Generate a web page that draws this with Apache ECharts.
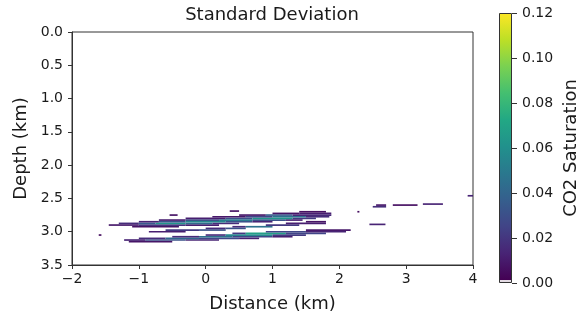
<!DOCTYPE html>
<html>
<head>
<meta charset="utf-8">
<script src="https://cdn.jsdelivr.net/npm/echarts@6/dist/echarts.min.js"></script>
<style>html,body{margin:0;padding:0;background:#fff;}#chart{width:586px;height:321px;}</style>
</head>
<body>
<div id="chart"></div>
<script>
// ---- data: each patch = [xStart (km), xEnd (km), depth (km), std of CO2 saturation]
const ROW_H = 0.025; // depth thickness of one model row (km)

const upperBand = [
  [-1.10, -0.40, 2.925, 0.006],
  [-1.45, -1.00, 2.900, 0.008],
  [-1.00, -0.30, 2.900, 0.018],
  [-0.30, 0.20, 2.900, 0.010],
  [-1.30, -1.00, 2.875, 0.015],
  [-1.00, -0.75, 2.875, 0.035],
  [-0.75, -0.30, 2.875, 0.062],
  [-0.30, 0.10, 2.875, 0.040],
  [0.10, 0.50, 2.875, 0.015],
  [-1.00, -0.70, 2.850, 0.012],
  [-0.70, -0.30, 2.850, 0.030],
  [-0.30, 0.30, 2.850, 0.055],
  [0.30, 0.70, 2.850, 0.030],
  [0.70, 1.00, 2.850, 0.012],
  [-0.70, -0.30, 2.825, 0.010],
  [-0.30, 0.20, 2.825, 0.030],
  [0.20, 0.70, 2.825, 0.050],
  [0.70, 1.20, 2.825, 0.030],
  [1.20, 1.45, 2.825, 0.010],
  [-0.30, 0.30, 2.800, 0.010],
  [0.30, 0.70, 2.800, 0.030],
  [0.70, 1.30, 2.800, 0.062],
  [1.30, 1.65, 2.800, 0.020],
  [0.10, 0.60, 2.775, 0.008],
  [0.60, 1.00, 2.775, 0.025],
  [1.00, 1.50, 2.775, 0.045],
  [1.50, 1.85, 2.775, 0.015],
  [0.50, 0.90, 2.750, 0.008],
  [0.90, 1.30, 2.750, 0.035],
  [1.30, 1.88, 2.750, 0.014],
  [1.00, 1.40, 2.725, 0.006],
  [1.40, 1.88, 2.725, 0.010],
  [1.40, 1.80, 2.700, 0.005]
];

const middleBand = [
  [-0.85, -0.30, 3.000, 0.010],
  [-0.60, -0.10, 2.975, 0.020],
  [-0.10, 0.30, 2.975, 0.030],
  [0.00, 0.30, 2.950, 0.015],
  [0.30, 0.60, 2.950, 0.030],
  [0.40, 0.60, 2.925, 0.015],
  [0.60, 1.00, 2.925, 0.045],
  [0.90, 1.40, 2.900, 0.020],
  [1.20, 1.80, 2.875, 0.010],
  [1.50, 1.80, 2.850, 0.006]
];

const lowerBand = [
  [-1.15, -0.50, 3.150, 0.007],
  [-1.22, -0.90, 3.125, 0.012],
  [-0.90, -0.30, 3.125, 0.030],
  [-0.30, 0.20, 3.125, 0.012],
  [-1.00, -0.60, 3.100, 0.015],
  [-0.60, -0.10, 3.100, 0.040],
  [-0.10, 0.50, 3.100, 0.025],
  [0.50, 0.80, 3.100, 0.010],
  [-0.50, -0.10, 3.075, 0.015],
  [-0.10, 0.40, 3.075, 0.045],
  [0.40, 1.00, 3.075, 0.025],
  [1.00, 1.30, 3.075, 0.010],
  [0.00, 0.30, 3.050, 0.015],
  [0.30, 1.00, 3.050, 0.055],
  [1.00, 1.50, 3.050, 0.020],
  [0.40, 0.60, 3.025, 0.020],
  [0.60, 1.20, 3.025, 0.068],
  [1.20, 1.80, 3.025, 0.025],
  [0.90, 1.50, 3.000, 0.025],
  [1.50, 2.10, 3.000, 0.012],
  [1.50, 2.17, 2.975, 0.008]
];

const scatteredPatches = [
  [-0.54, -0.42, 2.750, 0.006],
  [0.36, 0.50, 2.690, 0.006],
  [-1.60, -1.56, 3.050, 0.004],
  [2.27, 2.30, 2.700, 0.004],
  [2.50, 2.70, 2.625, 0.016],
  [2.55, 2.70, 2.600, 0.008],
  [2.80, 3.17, 2.600, 0.005],
  [3.25, 3.55, 2.585, 0.012],
  [2.45, 2.69, 2.890, 0.012],
  [3.92, 4.00, 2.460, 0.012]
];

const xTicks = { min: -2, max: 4, interval: 1 };
const yTicks = { min: 0, max: 3.5, interval: 0.5 };
const cbTicks = { min: 0, max: 0.12, interval: 0.02 };

const viridis = ['#440154','#482475','#414487','#355f8d','#2a788e','#21918c','#22a884','#44bf70','#7ad151','#bddf26','#fde725'];

const allPatches = [].concat(upperBand, middleBand, lowerBand, scatteredPatches);

const FONT = 'DejaVu Sans';
const TXT = '#1a1a1a';
const AX = '#333';

function renderPatch(params, api) {
  const p0 = api.coord([api.value(0), api.value(2) - ROW_H / 2]);
  const p1 = api.coord([api.value(1), api.value(2) + ROW_H / 2]);
  const rect = echarts.graphic.clipRectByRect({
    x: p0[0], y: p0[1], width: p1[0] - p0[0], height: p1[1] - p0[1]
  }, params.coordSys);
  return rect && { type: 'rect', shape: rect, style: { fill: api.visual('color') } };
}

const cbStops = viridis.slice().reverse().map((c, i) => ({ offset: i / (viridis.length - 1) * 0.988, color: c }));
cbStops.push({ offset: 0.99, color: '#e4dbe4' });
cbStops.push({ offset: 1, color: '#e4dbe4' });

const chart = echarts.init(document.getElementById('chart'), null, { renderer: 'canvas' });
chart.setOption({
  animation: false,
  backgroundColor: '#fff',
  title: {
    text: 'Standard Deviation',
    left: 267, top: 1, textAlign: 'center',
    textStyle: { fontFamily: FONT, fontSize: 18, fontWeight: 'normal', color: TXT }
  },
  grid: [
    { left: 72, right: 113, top: 32, bottom: 56, show: true, borderColor: AX, borderWidth: 1, backgroundColor: 'transparent' },
    { left: 499, right: 74, top: 13, bottom: 38 }
  ],
  xAxis: [
    {
      type: 'value', gridIndex: 0, min: xTicks.min, max: xTicks.max, interval: xTicks.interval,
      name: 'Distance (km)', nameLocation: 'middle', nameGap: 30,
      nameTextStyle: { fontFamily: FONT, fontSize: 18, color: TXT },
      axisLine: { show: true, onZero: false, lineStyle: { color: AX, width: 1 } },
      axisTick: { show: true, length: 4, lineStyle: { color: AX } },
      axisLabel: { fontFamily: FONT, fontSize: 14, color: TXT, margin: 7,
        formatter: v => (v < 0 ? '\u2212' + Math.abs(v) : String(v)) },
      splitLine: { show: false }
    },
    {
      type: 'category', gridIndex: 1, data: [''], show: false
    }
  ],
  yAxis: [
    {
      type: 'value', gridIndex: 0, inverse: true, min: yTicks.min, max: yTicks.max, interval: yTicks.interval,
      name: 'Depth (km)', nameLocation: 'middle', nameGap: 42, nameRotate: 90,
      nameTextStyle: { fontFamily: FONT, fontSize: 18, color: TXT },
      axisLine: { show: true, onZero: false, lineStyle: { color: AX, width: 1 } },
      axisTick: { show: true, length: 4, lineStyle: { color: AX } },
      axisLabel: { fontFamily: FONT, fontSize: 14, color: TXT, margin: 9, formatter: v => v.toFixed(1) },
      splitLine: { show: false }
    },
    {
      type: 'value', gridIndex: 1, position: 'right', min: cbTicks.min, max: cbTicks.max, interval: cbTicks.interval,
      name: 'CO2 Saturation', nameLocation: 'middle', nameGap: 50, nameRotate: 90,
      nameTextStyle: { fontFamily: FONT, fontSize: 18, color: TXT },
      axisLine: { show: false },
      axisTick: { show: true, length: 5, lineStyle: { color: AX } },
      axisLabel: { fontFamily: FONT, fontSize: 14, color: TXT, margin: 10, formatter: v => v.toFixed(2) },
      splitLine: { show: false }
    }
  ],
  visualMap: {
    type: 'continuous', show: false, seriesIndex: 0, dimension: 3,
    min: cbTicks.min, max: cbTicks.max, inRange: { color: viridis }
  },
  series: [
    {
      type: 'custom', xAxisIndex: 0, yAxisIndex: 0, renderItem: renderPatch,
      encode: { x: [0, 1], y: 2 }, data: allPatches, z: 1
    },
    {
      type: 'bar', xAxisIndex: 1, yAxisIndex: 1, data: [cbTicks.max], barWidth: '100%',
      itemStyle: {
        color: new echarts.graphic.LinearGradient(0, 0, 0, 1, cbStops),
        borderColor: AX, borderWidth: 1
      },
      silent: true
    }
  ]
});
</script>
</body>
</html>
